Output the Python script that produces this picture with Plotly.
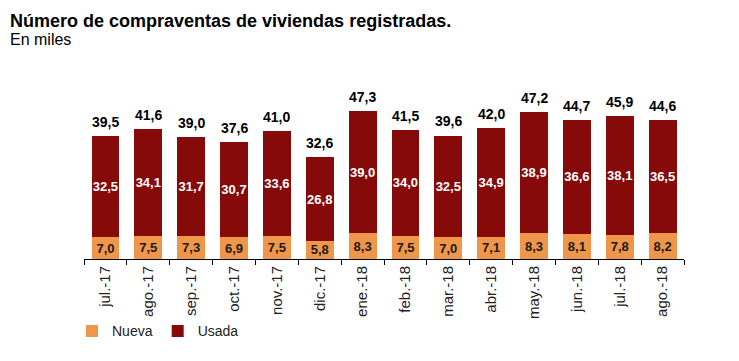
import plotly.graph_objects as go

months = ["jul.-17", "ago.-17", "sep.-17", "oct.-17", "nov.-17", "dic.-17", "ene.-18",
          "feb.-18", "mar.-18", "abr.-18", "may.-18", "jun.-18", "jul.-18", "ago.-18"]
nueva = [7.0, 7.5, 7.3, 6.9, 7.5, 5.8, 8.3, 7.5, 7.0, 7.1, 8.3, 8.1, 7.8, 8.2]
usada = [32.5, 34.1, 31.7, 30.7, 33.6, 26.8, 39.0, 34.0, 32.5, 34.9, 38.9, 36.6, 38.1, 36.5]
totals = [39.5, 41.6, 39.0, 37.6, 41.0, 32.6, 47.3, 41.5, 39.6, 42.0, 47.2, 44.7, 45.9, 44.6]

FONT = "Liberation Sans, Arial, sans-serif"
C_NUEVA = "#F0964B"
C_USADA = "#870A0A"

# page body has an 8px margin; figure is sized/positioned to compensate
W, H = 731, 353
L, R, T, B = 76, 55, 52, 101.5
pw = W - L - R
ph = H - T - B


def px_x(x):
    return (x - L) / pw


def px_y(y):
    return 1 + (T - y) / ph


fig = go.Figure()
fig.add_trace(go.Bar(
    x=months, y=nueva, name="Nueva", marker=dict(color=C_NUEVA, line=dict(width=0)),
    texttemplate="%{y:.1f}", textposition="inside", insidetextanchor="middle",
    textangle=0, constraintext="none",
    textfont=dict(family=FONT, size=13, color="#1a1a1a", weight="bold"),
    hoverinfo="skip"))
fig.add_trace(go.Bar(
    x=months, y=usada, name="Usada", marker=dict(color=C_USADA, line=dict(width=0)),
    texttemplate="%{y:.1f}", textposition="inside", insidetextanchor="middle",
    textangle=0, constraintext="none",
    textfont=dict(family=FONT, size=13, color="white", weight="bold"),
    hoverinfo="skip"))

annotations = []
for m, t in zip(months, totals):
    annotations.append(dict(
        x=m, y=t, xref="x", yref="y", text=f"{t:.1f}".replace(".", ","),
        showarrow=False, yanchor="bottom", yshift=4,
        font=dict(family=FONT, size=14, color="black", weight="bold")))

annotations += [
    dict(text="<b>Número de compraventas de viviendas registradas.</b>", x=px_x(0), y=px_y(1),
         xref="paper", yref="paper", showarrow=False, xanchor="left", yanchor="top",
         font=dict(family=FONT, size=18, color="black")),
    dict(text="En miles", x=px_x(0), y=px_y(21), xref="paper", yref="paper", showarrow=False,
         xanchor="left", yanchor="top", font=dict(family=FONT, size=16, color="black")),
]

fig.update_layout(
    width=W, height=H,
    barmode="stack", bargap=0.35,
    separators=",.",
    uniformtext=dict(minsize=13, mode="show"),
    paper_bgcolor="white", plot_bgcolor="white",
    margin=dict(l=L, r=R, t=T, b=B, autoexpand=False),
    font=dict(family=FONT, size=12, color="#222"),
    showlegend=True,
    legend=dict(orientation="h", x=px_x(64), y=px_y(324), xanchor="left", yanchor="middle",
                traceorder="normal",
                font=dict(family=FONT, size=14, color="#222"), bgcolor="rgba(0,0,0,0)"),
    xaxis=dict(showline=True, linecolor="black", linewidth=1, ticks="outside",
               tickson="boundaries", ticklen=5, tickcolor="black", tickangle=-90,
               automargin=False,
               tickfont=dict(family=FONT, size=15, color="#222"), showgrid=False),
    yaxis=dict(range=[0, 63.8], visible=False, showgrid=False, automargin=False),
    annotations=annotations,
)

fig.write_html("out.html")
